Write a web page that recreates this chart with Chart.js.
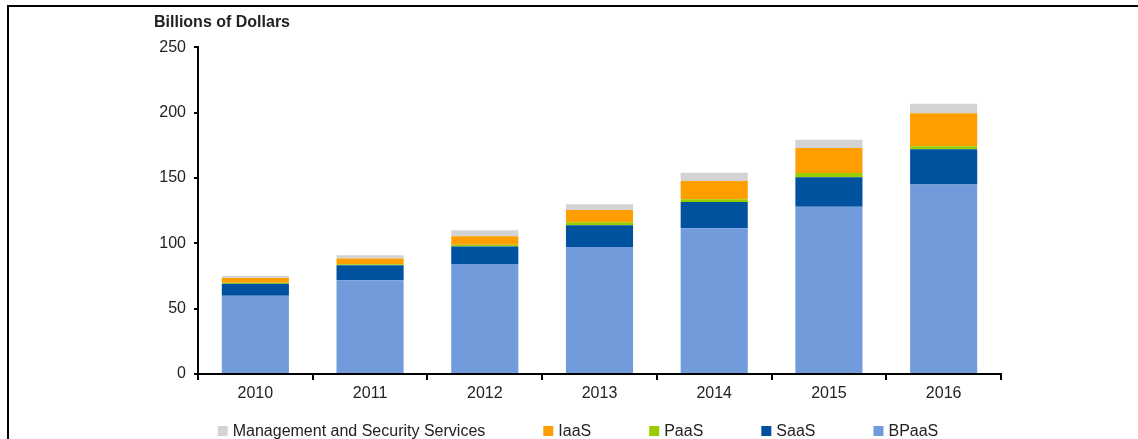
<!DOCTYPE html>
<html>
<head>
<meta charset="utf-8">
<script src="https://cdn.jsdelivr.net/npm/chart.js@4.4.0/dist/chart.umd.min.js"></script>
<style>
  html, body { margin: 0; padding: 0; background: #fff; }
  #wrap { position: relative; width: 1138px; height: 439px; }
  #frame { position: absolute; left: 7px; top: 5px; right: 0; bottom: 0; border-top: 2px solid #000; border-left: 2px solid #000; pointer-events: none; }
</style>
</head>
<body>
<div id="wrap">
  <canvas id="cloudChart" width="1138" height="439"></canvas>
  <div id="frame"></div>
</div>
<script>
// Données (milliards de dollars)
const years = ["2010", "2011", "2012", "2013", "2014", "2015", "2016"];
const bpaas = [59.9, 71.7, 84.2, 97.1, 111.5, 128.0, 144.9];
const saas = [9.2, 11.5, 13.3, 16.7, 20.1, 22.5, 27.0];
const paas = [0.8, 0.8, 1.3, 2.2, 2.0, 3.3, 2.3];
const iaas = [3.5, 4.3, 6.6, 9.5, 14.1, 19.1, 25.2];
const mgmt = [1.6, 2.5, 4.6, 4.3, 6.3, 6.3, 7.3];
const yTicks = [0, 50, 100, 150, 200, 250];

const FONT = "'Liberation Sans', Arial, sans-serif";

// Légende dessinée en bas (ordre inverse de l'empilement)
const bottomLegend = {
  id: "bottomLegend",
  afterDraw(chart) {
    const ctx = chart.ctx;
    const items = chart.data.datasets.slice().reverse();
    ctx.save();
    ctx.font = "16px " + FONT;
    const box = 10, gapText = 5, gapItem = 58;
    const widths = items.map((ds) => box + gapText + ctx.measureText(ds.label).width);
    const total = widths.reduce((a, b) => a + b, 0) + gapItem * (items.length - 1);
    let x = chart.width / 2 + 9 - total / 2;
    const y = 431;
    ctx.textBaseline = "middle";
    items.forEach((ds, i) => {
      ctx.fillStyle = ds.backgroundColor;
      ctx.fillRect(x, y - 5, box, box);
      ctx.fillStyle = "#222";
      ctx.fillText(ds.label, x + box + gapText, y + 1);
      x += widths[i] + gapItem;
    });
    ctx.restore();
  },
};

const ctx = document.getElementById("cloudChart").getContext("2d");

const config = {
  type: "bar",
  data: {
    labels: years,
    datasets: [
      { label: "BPaaS", data: bpaas, backgroundColor: "#729BDB" },
      { label: "SaaS", data: saas, backgroundColor: "#00529E" },
      { label: "PaaS", data: paas, backgroundColor: "#99CC00" },
      { label: "IaaS", data: iaas, backgroundColor: "#FF9E00" },
      { label: "Management and Security Services", data: mgmt, backgroundColor: "#D3D3D3" },
    ],
  },
  options: {
    responsive: false,
    animation: false,
    devicePixelRatio: 1,
    datasets: {
      bar: { categoryPercentage: 1, barPercentage: 0.585, borderWidth: 0 },
    },
    layout: { padding: { left: 154, right: 137, top: 0, bottom: 35 } },
    plugins: {
      legend: { display: false },
      tooltip: { enabled: false },
      title: {
        display: true,
        text: "Billions of Dollars",
        align: "start",
        color: "#222",
        font: { family: FONT, size: 16, weight: "bold" },
        padding: { top: 13, bottom: 15 },
      },
    },
    scales: {
      x: {
        stacked: true,
        afterFit: (s) => { s.height = 30; },
        grid: { offset: true, drawOnChartArea: false, drawTicks: true, tickLength: 6, color: "#000", lineWidth: 2 },
        border: { color: "#000", width: 2 },
        ticks: { color: "#222", padding: 4, font: { family: FONT, size: 16 } },
      },
      y: {
        stacked: true,
        min: 0,
        max: 250,
        afterFit: (s) => { s.width = 44; },
        afterBuildTicks: (s) => { s.ticks = yTicks.map((v) => ({ value: v })); },
        grid: { drawOnChartArea: false, drawTicks: true, tickLength: 4, color: "#000", lineWidth: 2 },
        border: { color: "#000", width: 2 },
        ticks: { color: "#222", padding: 8, font: { family: FONT, size: 16 } },
      },
    },
  },
  plugins: [bottomLegend],
};

let cloudChart = new Chart(ctx, config);
</script>
</body>
</html>
